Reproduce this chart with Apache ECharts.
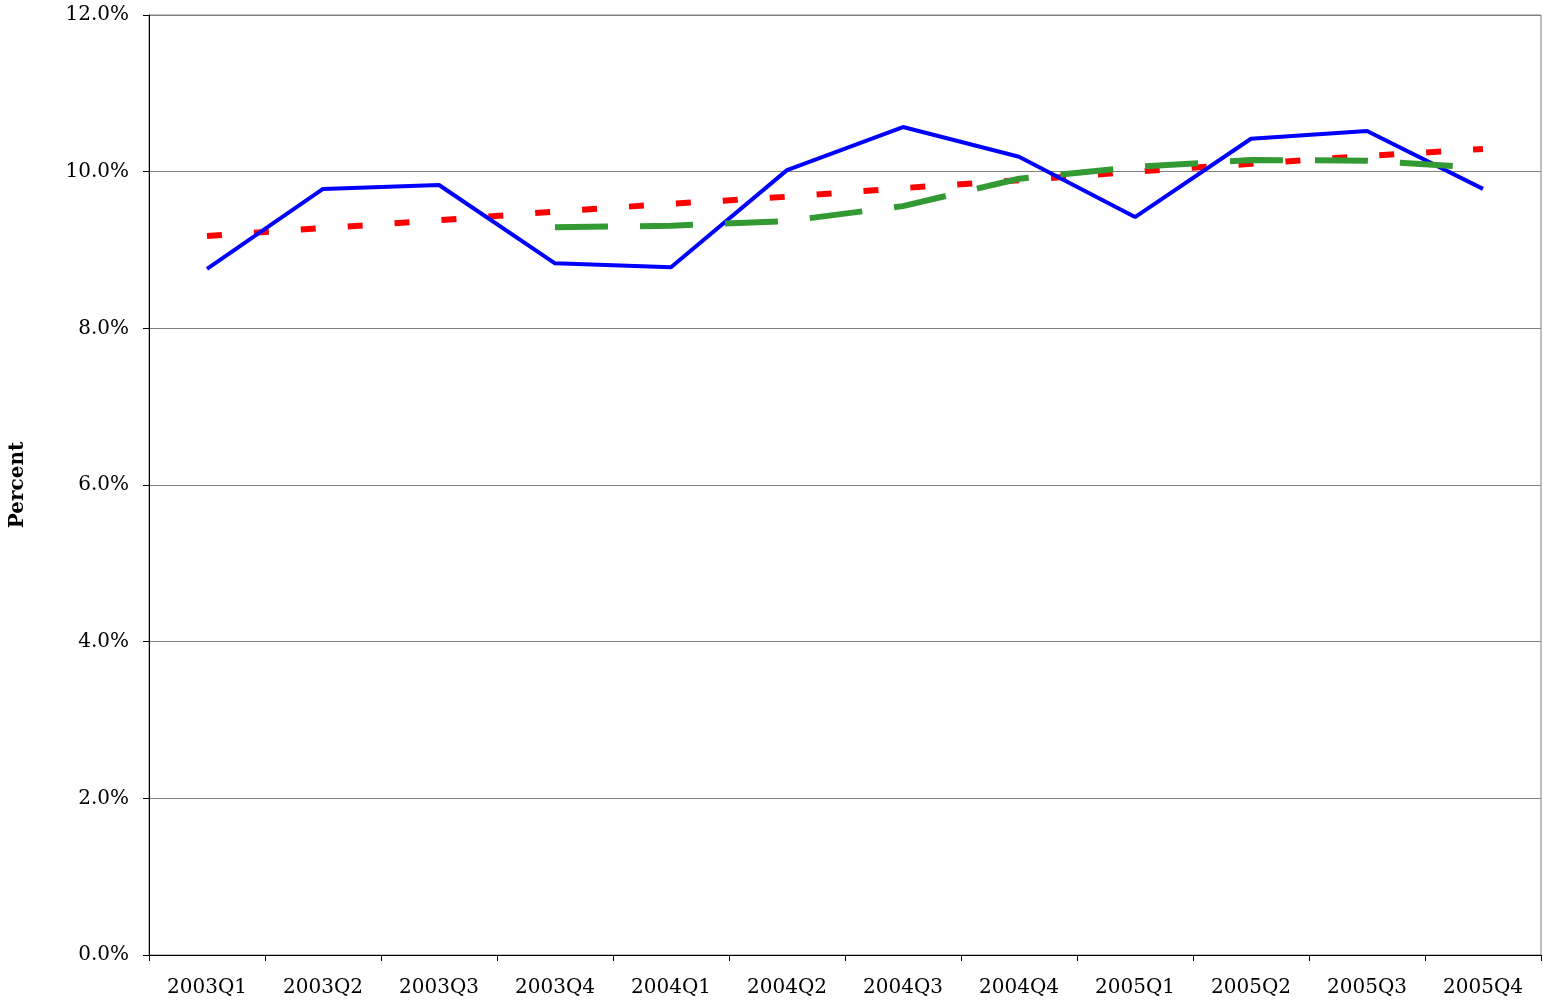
<!DOCTYPE html>
<html>
<head>
<meta charset="utf-8">
<script src="https://cdn.jsdelivr.net/npm/echarts@6/dist/echarts.min.js"></script>
<style>html,body{margin:0;padding:0;background:#fff}#c{width:1550px;height:1006px}</style>
</head>
<body>
<div id="c"></div>
<script>
var categories = ['2003Q1','2003Q2','2003Q3','2003Q4','2004Q1','2004Q2','2004Q3','2004Q4','2005Q1','2005Q2','2005Q3','2005Q4'];
var actual = [8.76, 9.78, 9.83, 8.83, 8.78, 10.02, 10.57, 10.19, 9.42, 10.42, 10.52, 9.78];
var trend = [9.18, 9.28, 9.38, 9.49, 9.59, 9.68, 9.79, 9.89, 10.00, 10.10, 10.20, 10.29];
var movingAvg = [null, null, null, 9.29, 9.31, 9.37, 9.56, 9.91, 10.06, 10.15, 10.14, 10.05];
var yTicks = [0, 2, 4, 6, 8, 10, 12];

var font = 'DejaVu Serif';
var chart = echarts.init(document.getElementById('c'));
chart.setOption({
  animation: false,
  grid: {left: 149, right: 9, top: 15, bottom: 51, show: true, borderColor: '#808080', borderWidth: 1},
  xAxis: {
    type: 'category', data: categories, boundaryGap: true,
    axisLine: {lineStyle: {color: '#000', width: 1}},
    axisTick: {show: true, length: 6, lineStyle: {color: '#000'}},
    axisLabel: {color: '#000', fontFamily: font, fontSize: 20, margin: 23}
  },
  yAxis: {
    type: 'value', min: yTicks[0], max: yTicks[yTicks.length-1], interval: 2,
    name: 'Percent', nameLocation: 'middle', nameGap: 121, nameRotate: 90,
    nameTextStyle: {fontFamily: 'DejaVu Serif', fontWeight: 'bold', fontSize: 20, color: '#000'},
    axisLine: {show: true, lineStyle: {color: '#000', width: 1}},
    axisTick: {show: true, length: 6, lineStyle: {color: '#000'}},
    axisLabel: {color: '#000', fontFamily: font, fontSize: 20, margin: 20, formatter: function(v){return v.toFixed(1)+'%';}},
    splitLine: {show: true, lineStyle: {color: '#808080', width: 1}}
  },
  series: [
    {type: 'line', data: actual, symbol: 'none', lineStyle: {color: '#0000ff', width: 4}, z: 3},
    {type: 'line', data: trend, symbol: 'none', lineStyle: {color: '#ff0000', width: 6, type: [15, 32]}, z: 2},
    {type: 'line', data: movingAvg, symbol: 'none', connectNulls: false, lineStyle: {color: '#339933', width: 6, type: [53, 32]}, z: 4}
  ]
});
</script>
</body>
</html>
